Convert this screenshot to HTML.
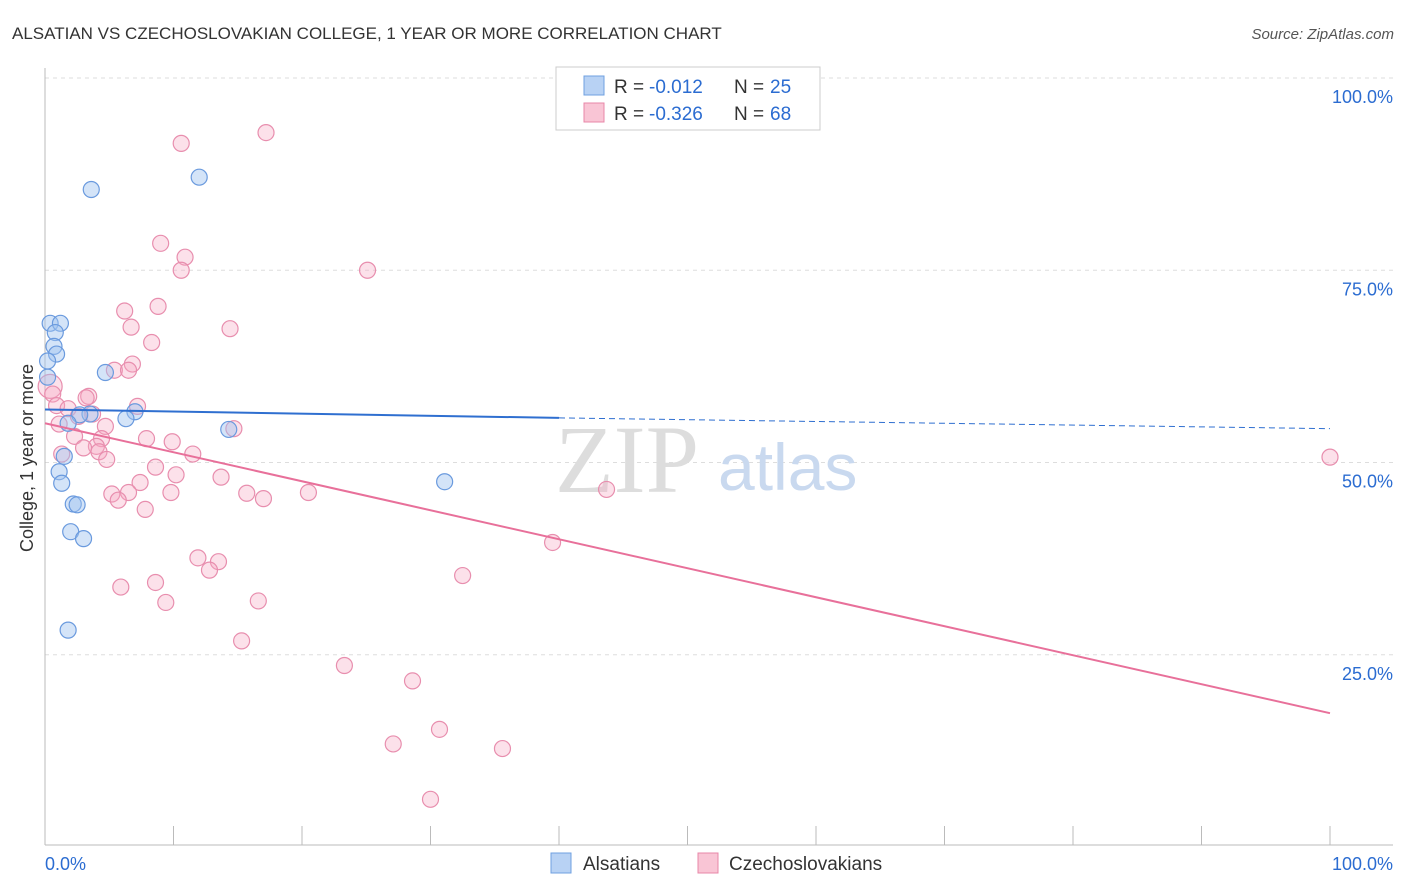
<!DOCTYPE html>
<html><head><meta charset="utf-8"><style>
body{margin:0;background:#fff;font-family:"Liberation Sans",sans-serif;}
svg{display:block}
</style></head><body>
<svg id="chart" width="1406" height="892">
<text x="12" y="39" font-size="17" fill="#333">ALSATIAN VS CZECHOSLOVAKIAN COLLEGE, 1 YEAR OR MORE CORRELATION CHART</text>
<text x="1394" y="39" font-size="15" fill="#555" text-anchor="end" font-style="italic">Source: ZipAtlas.com</text>
<text transform="translate(33,458) rotate(-90)" font-size="18" fill="#333" text-anchor="middle">College, 1 year or more</text>
<g id="grid"></g>
<text x="555" y="492" font-size="96" fill="#ddd" font-family="Liberation Serif">ZIP</text>
<text x="718" y="490" font-size="66" fill="#c9d9ef">atlas</text>
<g id="pts"></g>
<g id="lines"></g>
<g>
<rect x="556" y="67" width="264" height="63" fill="#fff" stroke="#ccc"/>
<rect x="584" y="76" width="20" height="19" fill="#b8d2f4" stroke="#6fa0e0"/>
<rect x="584" y="103" width="20" height="19" fill="#f9c5d5" stroke="#e887a8"/>
<text x="614" y="93" font-size="19" fill="#333">R =</text>
<text x="649" y="93" font-size="19" fill="#2b6cd1">-0.012</text>
<text x="734" y="93" font-size="19" fill="#333">N =</text>
<text x="770" y="93" font-size="19" fill="#2b6cd1">25</text>
<text x="614" y="120" font-size="19" fill="#333">R =</text>
<text x="649" y="120" font-size="19" fill="#2b6cd1">-0.326</text>
<text x="734" y="120" font-size="19" fill="#333">N =</text>
<text x="770" y="120" font-size="19" fill="#2b6cd1">68</text>
</g>
<g>
<rect x="551" y="853" width="20" height="20" fill="#b8d2f4" stroke="#6fa0e0"/>
<text x="583" y="870" font-size="19" fill="#333">Alsatians</text>
<rect x="698" y="853" width="20" height="20" fill="#f9c5d5" stroke="#e887a8"/>
<text x="729" y="870" font-size="19" fill="#333">Czechoslovakians</text>
</g>
<text x="45" y="870" font-size="18" fill="#2b6cd1">0.0%</text>
<text x="1393" y="870" font-size="18" fill="#2b6cd1" text-anchor="end">100.0%</text>
</svg>
<script>
const yTicks=[100,75,50,25];
const yTickLabels=["100.0%","75.0%","50.0%","25.0%"];
const blueX=[3.6,12.0,0.4,1.2,0.8,0.7,0.9,0.2,0.2,4.7,7.0,6.3,3.5,2.7,1.8,1.5,1.1,1.3,2.2,2.5,2.0,3.0,1.8,14.3,31.1];
const blueY=[85.5,87.1,68.1,68.1,66.9,65.1,64.1,63.2,61.1,61.7,56.6,55.7,56.3,56.2,55.1,50.8,48.8,47.3,44.6,44.5,41.0,40.1,28.2,54.3,47.5];
const pinkX=[10.6,17.2,9.0,10.9,10.6,25.1,6.2,8.8,6.7,14.4,8.3,5.4,6.8,0.4,0.6,3.4,3.2,7.2,0.9,1.8,3.7,2.6,1.1,4.7,2.3,4.4,7.9,9.9,4.0,3.0,11.5,1.3,4.2,4.8,8.6,10.2,13.7,7.4,9.8,15.7,20.5,17.0,5.2,6.5,5.7,7.8,43.7,100,39.5,11.9,13.5,12.8,32.5,5.9,8.6,9.4,16.6,15.3,23.3,28.6,27.1,30.7,35.6,30.0,14.7,6.5];
const pinkY=[91.5,92.9,78.5,76.7,75.0,75.0,69.7,70.3,67.6,67.4,65.6,62.0,62.8,59.9,58.9,58.6,58.4,57.3,57.4,57.0,56.3,56.0,55.0,54.7,53.4,53.1,53.1,52.7,52.1,51.9,51.1,51.1,51.4,50.4,49.4,48.4,48.1,47.4,46.1,46.0,46.1,45.3,45.9,46.1,45.1,43.9,46.5,50.7,39.6,37.6,37.1,36.0,35.3,33.8,34.4,31.8,32.0,26.8,23.6,21.6,13.4,15.3,12.8,6.2,54.4,62.0];
const W0=45,W1=1330,Y0=847,Y1=78;
const sx=v=>W0+(W1-W0)*v/100, sy=v=>Y0-(Y0-Y1)*v/100;
const NS="http://www.w3.org/2000/svg";
function mk(t,a,p){const e=document.createElementNS(NS,t);for(const k in a)e.setAttribute(k,a[k]);document.getElementById(p).appendChild(e);return e;}
yTicks.forEach((t,i)=>{
 const l=mk('line',{x1:45,x2:1393,y1:sy(t),y2:sy(t),stroke:'#ddd','stroke-dasharray':'4,4'},'grid');
 
 
 const tx=mk('text',{x:1393,y:sy(t)+25,'font-size':18,fill:'#2b6cd1','text-anchor':'end'},'grid');
 tx.textContent=yTickLabels[i];
 
 
});
const ax=mk('line',{x1:45,x2:1393,y1:845,y2:845,stroke:'#bbb'},'grid');


const ay=mk('line',{x1:45,x2:45,y1:68,y2:845,stroke:'#bbb'},'grid');


for(let i=1;i<=10;i++){const x=sx(i*10);const tk=mk('line',{x1:x,x2:x,y1:826,y2:845,stroke:'#bbb'},'grid');
 
 }
pinkX.forEach((x,i)=>{const c=mk('circle',{cx:sx(x),cy:sy(pinkY[i]),r:i==13?12:8,fill:'rgba(245,170,195,0.35)',stroke:'#e88eae','stroke-width':1.2},'pts');
 
 });
blueX.forEach((x,i)=>{const c=mk('circle',{cx:sx(x),cy:sy(blueY[i]),r:8,fill:'rgba(160,195,240,0.45)',stroke:'#6a9ade','stroke-width':1.2},'pts');
 
 });
const bl=mk('line',{x1:sx(0),y1:sy(56.9),x2:sx(40),y2:sy(55.8),stroke:'#2f6fd0','stroke-width':2},'lines');


const bd=mk('line',{x1:sx(40),y1:sy(55.8),x2:sx(100),y2:sy(54.4),stroke:'#2f6fd0','stroke-width':1,'stroke-dasharray':'6,4'},'lines');


const pl=mk('line',{x1:sx(0),y1:sy(55.1),x2:sx(100),y2:sy(17.4),stroke:'#e8709a','stroke-width':2},'lines');


</script>
</body></html>
